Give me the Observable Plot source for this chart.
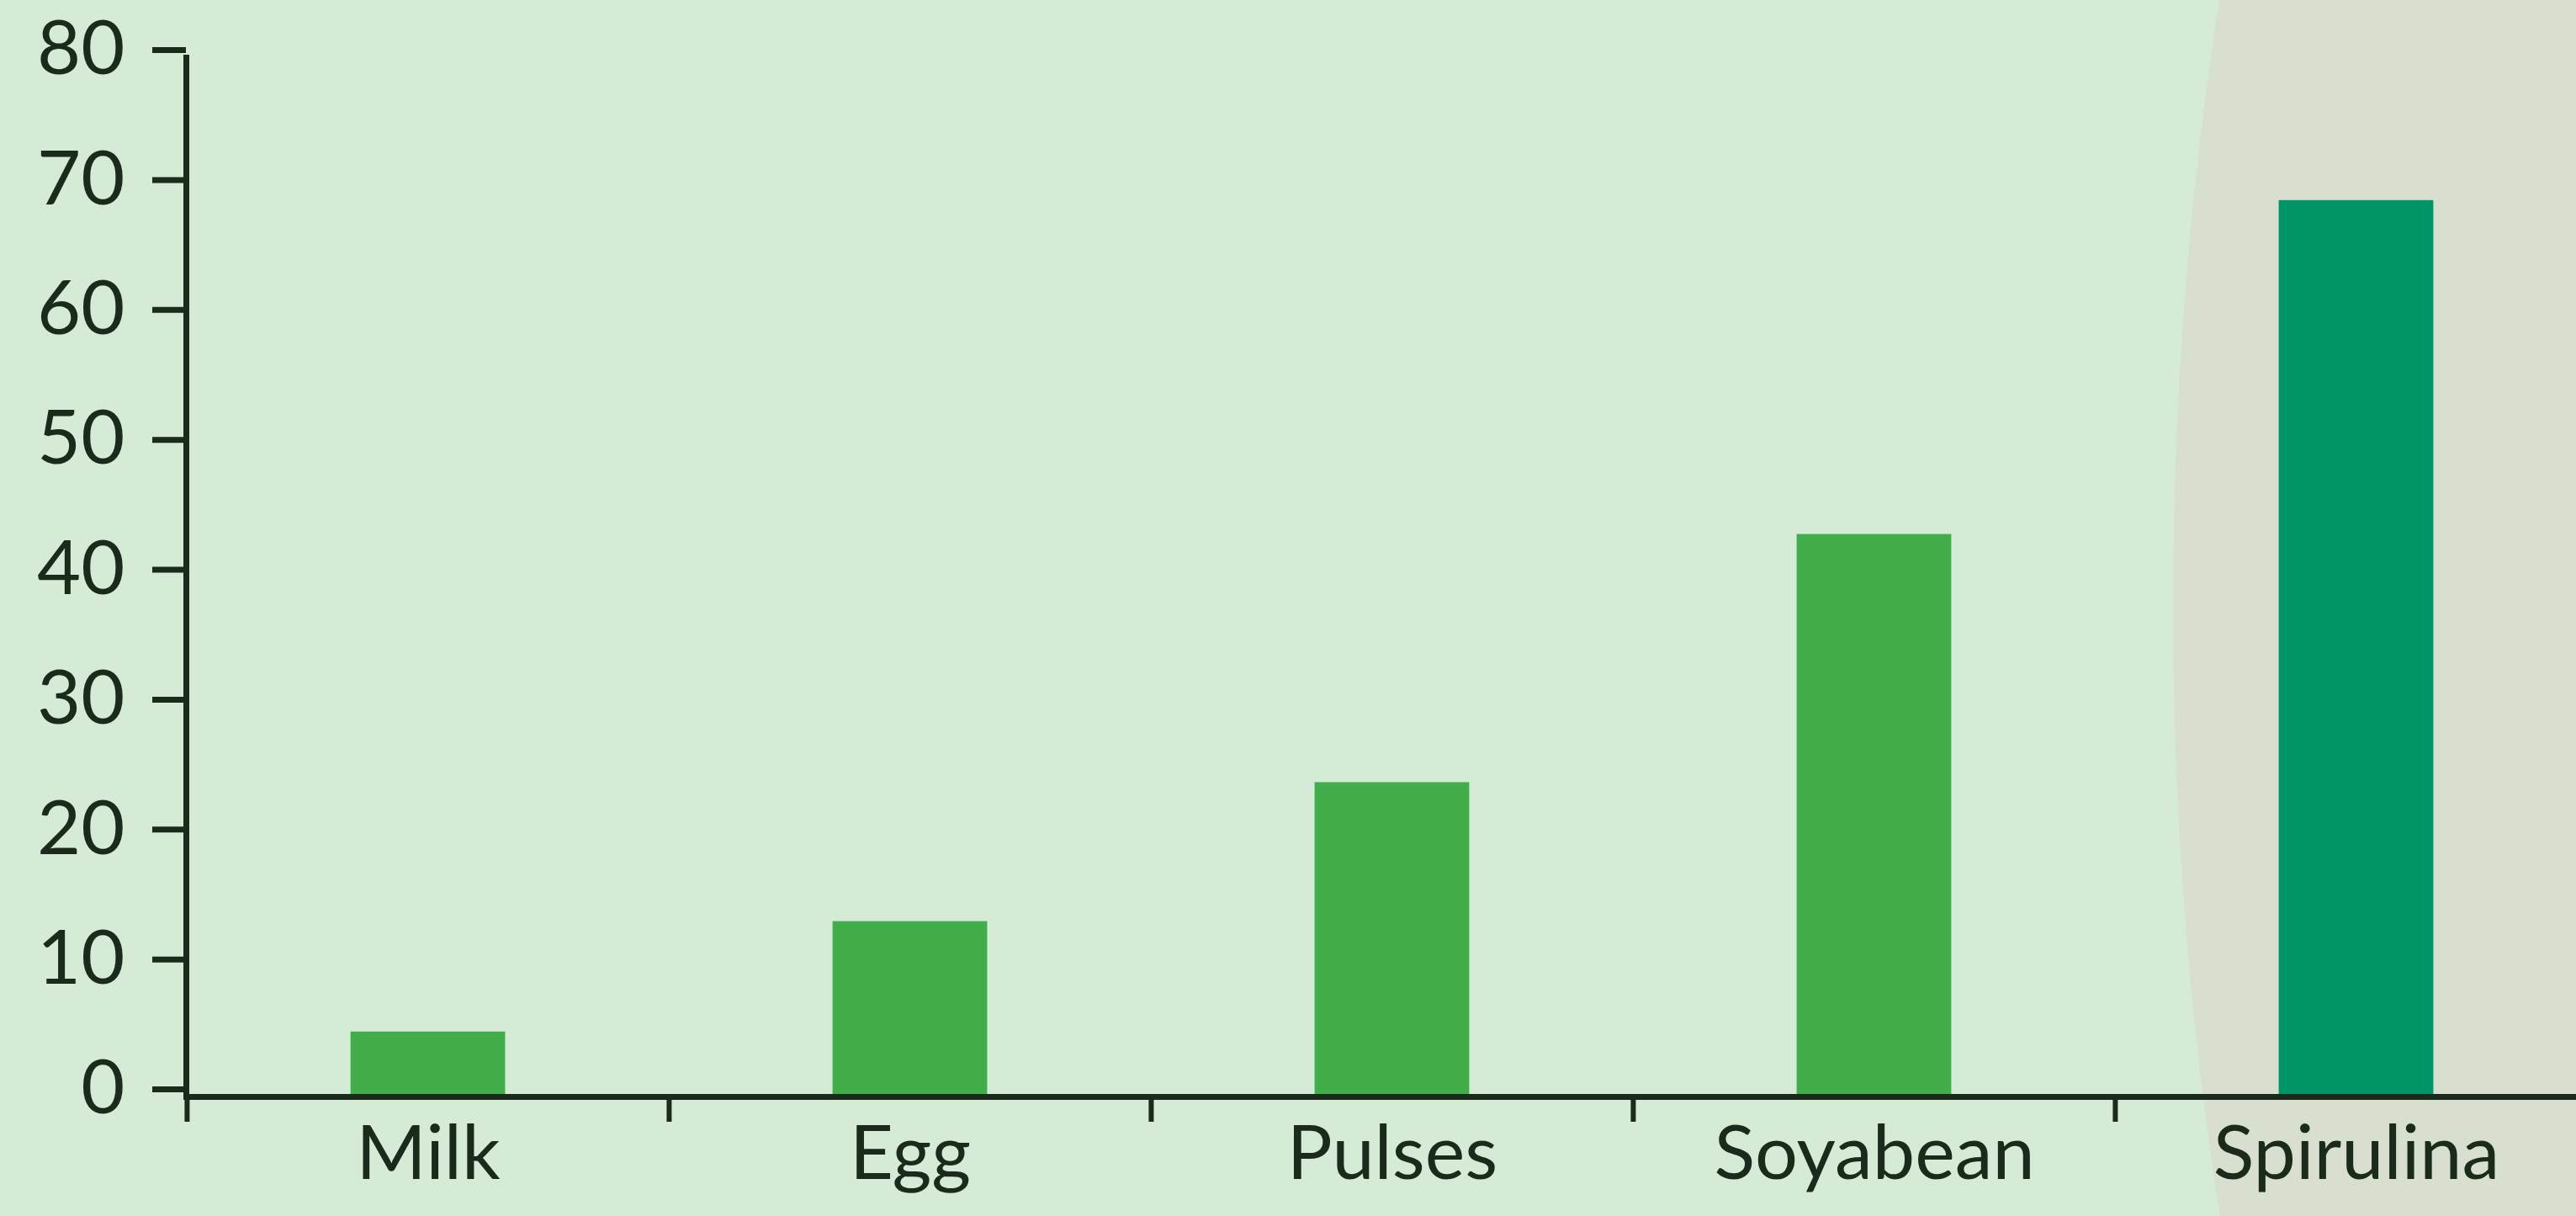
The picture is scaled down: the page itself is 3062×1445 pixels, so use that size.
<!DOCTYPE html>
<html>
<head>
<meta charset="utf-8">
<script src="https://cdn.jsdelivr.net/npm/d3@7"></script>
<script src="https://cdn.jsdelivr.net/npm/@observablehq/plot@0.6"></script>
<style>
  html, body { margin: 0; padding: 0; background: #d5ebd6; }
  #wrap { position: relative; width: 3062px; height: 1445px; overflow: hidden; background: #d5ebd6; }
  #blob { position: absolute; left: 2583px; top: -1480px; width: 2000px; height: 4400px; border-radius: 50%; background: #d8dfcf; }
  #chart { position: absolute; left: 0; top: 0; }
</style>
</head>
<body>
<div id="wrap"><div id="blob"></div><div id="chart"></div></div>
<script>
const foods = ["Milk", "Egg", "Pulses", "Soyabean", "Spirulina"];
const protein = [5, 13.5, 24.2, 43.3, 69];
const yTicks = [0, 10, 20, 30, 40, 50, 60, 70, 80];
const highlighted = ["Spirulina"];

const data = foods.map((f, i) => ({food: f, value: protein[i], kind: highlighted.includes(f) ? "hi" : "lo"}));

const W = 3062, H = 1445;
const xLeft = 221, xRight = 3087;
const band = (xRight - xLeft) / foods.length;
const barW = 184;
const ink = "#1a2a1b";

const chart = Plot.plot({
  width: W,
  height: H,
  marginLeft: 221,
  marginRight: 0,
  marginTop: 68,
  marginBottom: 142,
  style: {background: "transparent", fontFamily: "Lato, 'Open Sans', sans-serif", color: ink},
  x: {domain: foods, range: [xLeft, xRight], padding: 0, axis: null},
  y: {domain: [0, 80], axis: null},
  color: {domain: ["lo", "hi"], range: ["#41ae4b", "#009467"]},
  marks: [
    Plot.barY(data, {x: "food", y: "value", fill: "kind", insetLeft: (band - barW) / 2, insetRight: (band - barW) / 2}),
    Plot.axisY({ticks: yTicks, label: null, tickSize: 40, tickPadding: 33, fontSize: 90, strokeWidth: 7, stroke: ink, fill: ink, dy: -9, tickFormat: d => String(d)}),
    Plot.frame({anchor: "left", stroke: ink, strokeWidth: 7}),
    Plot.frame({anchor: "bottom", stroke: ink, strokeWidth: 7}),
    Plot.axisX({label: null, tickSize: 30, strokeWidth: 6, stroke: ink, dx: -band / 2, tickFormat: () => ""}),
    Plot.axisX({label: null, tickSize: 0, tickPadding: 34, fontSize: 90, fill: ink})
  ]
});
document.getElementById("chart").appendChild(chart);
</script>
</body>
</html>
